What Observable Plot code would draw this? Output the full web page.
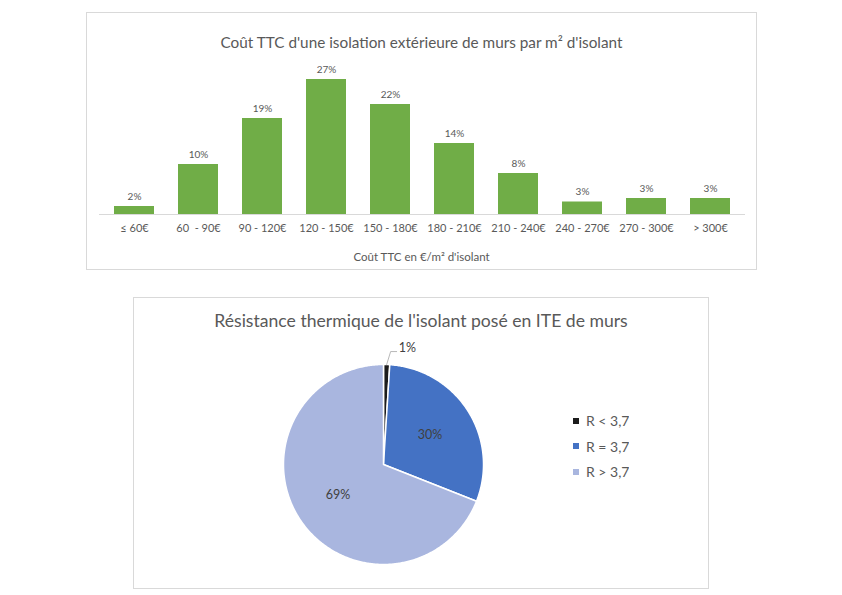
<!DOCTYPE html>
<html>
<head>
<meta charset="utf-8">
<script src="https://cdn.jsdelivr.net/npm/d3@7"></script>
<script src="https://cdn.jsdelivr.net/npm/@observablehq/plot@0.6"></script>
<style>
  html, body { margin: 0; padding: 0; background: #fff; }
  body { width: 842px; height: 595px; position: relative; overflow: hidden; font-family: Lato, "Open Sans", sans-serif; }
  .box { position: absolute; border: 1px solid #d9d9d9; box-sizing: border-box; }
  .abs { position: absolute; }
  .title { text-align: center; color: #595959; white-space: nowrap; }
  .pleg-swatch { padding-bottom: 8.5px !important; }
</style>
</head>
<body>
<div class="box" style="left:86px;top:12px;width:671px;height:258px;"></div>
<div class="abs title" style="left:86px;top:33px;width:671px;font-size:15.3px;line-height:18px;">Coût TTC d'une isolation extérieure de murs par m² d'isolant</div>
<div id="bars" class="abs" style="left:86px;top:60px;"></div>
<div class="abs title" style="left:86px;top:250px;width:671px;font-size:11.5px;line-height:14px;">Coût TTC en €/m² d'isolant</div>

<div class="box" style="left:133px;top:297px;width:576px;height:292px;"></div>
<div class="abs title" style="left:133px;top:310px;width:576px;font-size:17.6px;line-height:22px;">Résistance thermique de l'isolant posé en ITE de murs</div>
<div id="pie" class="abs" style="left:133px;top:340px;"></div>
<div id="legend" class="abs" style="left:573px;top:412px;"></div>

<script>
// ---- Bar chart data ----
const categories = ["≤ 60€", "60  - 90€", "90 - 120€", "120 - 150€", "150 - 180€", "180 - 210€", "210 - 240€", "240 - 270€", "270 - 300€", "> 300€"];
const shares = [1.6, 10, 19.2, 27, 22, 14.2, 8.2, 2.5, 3.2, 3.2];
const barLabels = ["2%", "10%", "19%", "27%", "22%", "14%", "8%", "3%", "3%", "3%"];

// ---- Pie chart data ----
const pieLabels = ["R < 3,7", "R = 3,7", "R > 3,7"];
const pieValues = [1, 30, 69];
const pieTexts = ["1%", "30%", "69%"];
const pieColors = ["#1c1c1c", "#4472C4", "#A9B6DF"];

// ---- Bar chart ----
const barData = categories.map((c, i) => ({cat: c, v: shares[i], label: barLabels[i]}));
const bars = Plot.plot({
  width: 671, height: 180,
  marginLeft: 13, marginRight: 12, marginTop: 4, marginBottom: 26,
  style: {fontFamily: "Lato, sans-serif", fontSize: "11px", color: "#595959", background: "transparent"},
  x: {domain: categories, paddingInner: 0.38, paddingOuter: 0.19, tickSize: 0, tickPadding: 10, label: null},
  y: {domain: [0, 30], axis: null},
  marks: [
    Plot.barY(barData, {x: "cat", y: "v", fill: "#70AD47"}),
    Plot.ruleY([0], {stroke: "#d9d9d9", strokeWidth: 1}),
    Plot.text(barData, {x: "cat", y: "v", text: "label", dy: -7, lineAnchor: "bottom", fontSize: 10, fill: "#595959"})
  ]
});
document.getElementById("bars").appendChild(bars);

// ---- Pie chart ----
const arcs = d3.pie().sort(null)(pieValues);
const poly = [];
arcs.forEach((a, i) => {
  const key = pieLabels[i];
  poly.push({key, x: 0, y: 0});
  const n = Math.max(2, Math.ceil((a.endAngle - a.startAngle) / 0.01));
  for (let k = 0; k <= n; k++) {
    const t = a.startAngle + (a.endAngle - a.startAngle) * k / n;
    poly.push({key, x: Math.sin(t), y: Math.cos(t)});
  }
  poly.push({key, x: 0, y: 0});
});
const inside = [], outside = [], leaders = [];
arcs.forEach((a, i) => {
  const m = (a.startAngle + a.endAngle) / 2;
  if (a.value >= 5) {
    inside.push({x: 0.55 * Math.sin(m), y: 0.55 * Math.cos(m), t: pieTexts[i]});
  } else {
    const x0 = Math.sin(m), y0 = Math.cos(m);
    leaders.push({x: x0, y: y0}, {x: x0 + 0.04, y: y0 + 0.13}, {x: x0 + 0.10, y: y0 + 0.13});
    outside.push({x: x0 + 0.12, y: y0 + 0.17, t: pieTexts[i]});
  }
});
const pie = Plot.plot({
  width: 576, height: 245, margin: 0,
  style: {fontFamily: "Lato, sans-serif", background: "transparent"},
  x: {domain: [-2.5, 3.26], axis: null},
  y: {domain: [-1.21, 1.24], axis: null},
  color: {domain: pieLabels, range: pieColors},
  marks: [
    Plot.line(poly, {x: "x", y: "y", z: "key", fill: "key", stroke: "white", strokeWidth: 1.5, strokeLinejoin: "round"}),
    Plot.line(leaders, {x: "x", y: "y", stroke: "#a6a6a6", strokeWidth: 0.8}),
    Plot.text(inside, {x: "x", y: "y", text: "t", fontSize: 12.5, fill: "#404040"}),
    Plot.text(outside, {x: "x", y: "y", text: "t", fontSize: 12.5, fill: "#404040", textAnchor: "start"})
  ]
});
document.getElementById("pie").appendChild(pie);

const legend = Plot.legend({
  color: {type: "ordinal", domain: pieLabels, range: pieColors},
  legend: "swatches", columns: 1, swatchSize: 6, className: "pleg",
  style: {fontFamily: "Lato, sans-serif", fontSize: "14px", color: "#595959", background: "transparent"}
});
document.getElementById("legend").appendChild(legend);
</script>
</body>
</html>
